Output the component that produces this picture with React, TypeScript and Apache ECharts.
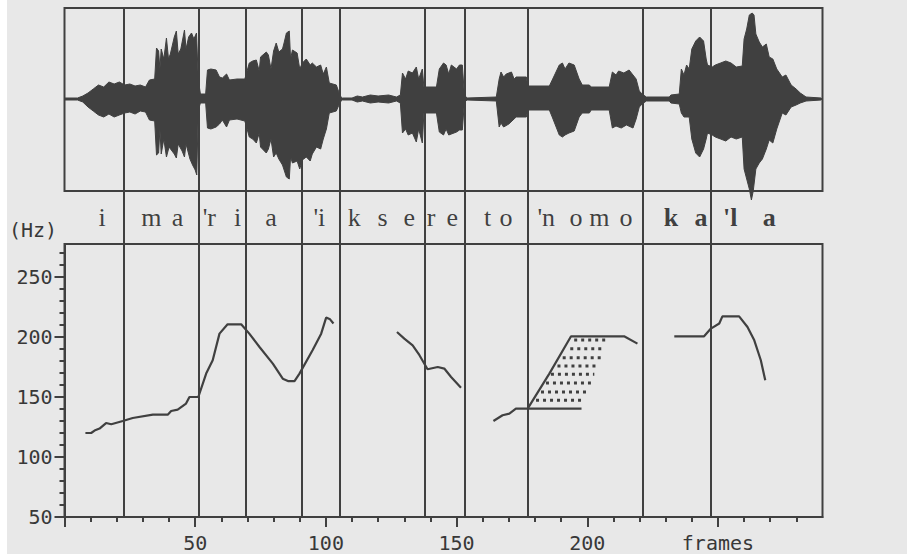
import React, { useEffect, useRef } from "react";
import * as echarts from "echarts";

// ---------- data ----------
const X_MAX = 290;
const segmentBounds = [22.8, 51.3, 69.3, 90.7, 105.3, 137.7, 153.0, 177.1, 221.4, 247.4];

// [text, frame, bold]
const tokens: [string, number, boolean][] = [
  ["i", 14.4, false],
  ["m", 33.2, false],
  ["a", 43.2, false],
  ["'r", 55.4, false],
  ["i", 66.2, false],
  ["a", 79.0, false],
  ["'i", 97.5, false],
  ["k", 110.9, false],
  ["s", 121.7, false],
  ["e", 131.9, false],
  ["r", 140.2, false],
  ["e", 148.4, false],
  ["t", 161.9, false],
  ["o", 168.9, false],
  ["'n", 184.3, false],
  ["o", 195.7, false],
  ["m", 204.6, false],
  ["o", 214.8, false],
  ["k", 232.0, true],
  ["a", 243.5, true],
  ["'l", 254.7, true],
  ["a", 269.6, true],
];

const waveUpper: [number, number][] = [
  [0, 1], [5, 1], [7, 3], [9, 6], [11, 10], [13, 14], [15, 12], [17, 17], [19, 15], [21, 17], [23, 14], [25, 15], [27, 13], [29, 14], [31, 12],
  [32.5, 19], [34.5, 20], [35.2, 51], [36, 48], [36.5, 30], [37, 50], [38, 40], [39, 61], [39.8, 40], [40.5, 45], [42, 62], [42.8, 68], [43.5, 45],
  [44.5, 50], [45.9, 69], [46.5, 50], [47.5, 62], [48.6, 66], [49.5, 60], [50.5, 66], [51.2, 19], [52, 5], [54, 5], [54.7, 29], [56, 30], [58, 29],
  [59.3, 22], [60.4, 21], [62, 25], [63.1, 19], [66, 20], [69, 20], [70.7, 36], [72, 38], [73.4, 39], [74.5, 28], [75, 42], [77.2, 47], [78, 44],
  [79, 30], [80, 48], [81, 56], [82, 47], [83.4, 50], [84, 56], [84.9, 66], [86, 68], [86.5, 40], [87.2, 49], [89, 46], [90, 30], [91, 36],
  [92.5, 40], [94, 34], [94.8, 36], [96.4, 32], [98, 34], [99, 25], [100.2, 32], [101.3, 16], [104, 14], [105.5, 3], [106.3, 1], [110, 1],
  [112, 3], [114, 2], [117, 4], [120, 3], [124, 4], [127, 2], [128.5, 4], [129.3, 26], [130.5, 20], [131.5, 28], [133.1, 26], [134.6, 32],
  [135.5, 20], [136.9, 30], [137.5, 12], [142.3, 12], [143.4, 30], [145, 36], [146, 34], [147, 25], [148, 34], [150, 30], [151.1, 34],
  [152.2, 34], [153, 4], [154, 1], [165.2, 2], [166.3, 20], [167, 27], [168, 22], [169, 25], [171, 27], [172, 20], [172.8, 22], [176.7, 22],
  [177.2, 13], [185.5, 13], [186.6, 19], [189.3, 34], [190.5, 36], [191.5, 30], [193, 36], [195, 34], [196.9, 20], [198.1, 14], [200.8, 14],
  [201.5, 12], [208.4, 12], [209.6, 27], [211, 24], [212, 28], [214, 26], [216, 29], [217.5, 24], [218.7, 20], [219.9, 8], [221, 5], [222.6, 2],
  [231.4, 2], [232, 4], [235.2, 5], [236, 30], [237, 24], [238, 34], [239, 30], [240, 50], [241.5, 58], [243, 62], [244.5, 58], [245.5, 40],
  [246, 34], [247.8, 32], [249, 34], [251, 36], [253, 38], [255, 36], [257, 32], [259.3, 33], [260, 60], [261, 70], [262, 84], [263.1, 86],
  [263.8, 84], [264.5, 65], [265.8, 57], [267, 52], [268.5, 55], [269.6, 42], [271, 40], [272.5, 30], [274.6, 22], [276, 24], [278, 14],
  [279.9, 10], [281.5, 6], [283.7, 2], [289.5, 1],
];

const waveLower: [number, number][] = [
  [0, -1], [5, -1], [7, -3], [9, -8], [11, -12], [13, -16], [15, -18], [17, -15], [19, -18], [21, -16], [23, -14], [25, -13], [27, -15], [29, -12],
  [31, -13], [32.5, -21], [34.5, -22], [35.2, -56], [36, -54], [36.5, -30], [37, -55], [38, -40], [39, -58], [40, -48], [42, -55], [42.8, -59],
  [43.5, -45], [45, -52], [45.9, -58], [46.5, -45], [48, -60], [49, -66], [50, -71], [50.6, -76], [51.2, -11], [52, -4], [54, -4], [54.7, -29],
  [56, -30], [58, -28], [59.3, -25], [60.4, -21], [62, -28], [63.1, -21], [66, -20], [69, -22], [70.7, -38], [72, -40], [73.4, -44], [74.5, -34],
  [75, -48], [77.2, -54], [78, -50], [79, -40], [80, -58], [81, -54], [82, -60], [83.4, -66], [84.9, -78], [86, -80], [86.5, -58], [87.2, -64],
  [89, -62], [90, -70], [91, -61], [92.5, -58], [94, -62], [94.8, -55], [96.4, -48], [98, -50], [99, -40], [100.2, -30], [101.3, -14], [104, -12],
  [105.5, -3], [106.3, -1], [110, -1], [112, -3], [114, -2], [117, -4], [120, -3], [124, -4], [127, -2], [128.5, -4], [129.3, -34], [130.5, -30],
  [131.5, -36], [133.1, -34], [134.6, -43], [135.5, -30], [136.9, -44], [137.5, -14], [142.3, -14], [143.4, -33], [145, -36], [146, -30],
  [147, -36], [150, -33], [151.1, -31], [152.2, -31], [153, -3], [154, -1], [165.2, -2], [166.3, -28], [167, -24], [168, -28], [170, -25],
  [172, -20], [172.8, -18], [176.7, -18], [177.2, -11], [185.5, -11], [186.6, -18], [189.3, -36], [190.5, -38], [191.5, -36], [193, -34],
  [195, -32], [196.9, -18], [198.1, -14], [200.8, -14], [201.5, -11], [208.4, -11], [209.6, -29], [211, -27], [213, -29], [215, -26],
  [217.5, -29], [218.7, -20], [219.9, -8], [221, -5], [222.6, -2], [231.4, -2], [232, -4], [235.2, -5], [236, -14], [237, -18], [239, -18],
  [240, -40], [241.5, -54], [243, -58], [244.5, -50], [245.5, -40], [246, -34], [247.8, -36], [249, -38], [251, -40], [253, -42], [255, -38],
  [257, -40], [259.3, -38], [260, -70], [261, -80], [262, -90], [262.8, -101], [263.5, -92], [264.5, -70], [265.8, -64], [267, -60],
  [268.5, -50], [269.6, -41], [271, -44], [272.5, -30], [274.6, -14], [276, -16], [278, -8], [279.9, -6], [281.5, -4], [283.7, -2], [289.5, -1],
];

const waveZero: [number, number][] = [[0, 0], [X_MAX, 0]];

const pitchSeg1: [number, number][] = [
  [8, 120], [10.2, 120], [11.5, 122], [13.4, 123.7], [15.9, 128.3], [17.9, 127.3], [22.3, 130], [26.1, 132.5], [33.8, 135.3], [39.5, 135.3],
  [40.8, 138.3], [43.3, 139.5], [46.5, 144.5], [47.8, 150], [51.2, 150], [54.2, 169.5], [56.7, 180.6], [59.3, 202.8], [62.4, 210.6],
  [67.6, 210.6], [70.7, 202.8], [74.6, 191.7], [79.7, 177.8], [83.5, 165.3], [85.5, 163.3], [88, 163.3], [89.9, 169.5], [94.9, 189],
  [98.2, 202.8], [100.1, 216.2], [101.6, 214.7], [102.9, 211.2],
];
const pitchSeg2: [number, number][] = [
  [127.2, 204.2], [130.0, 198.7], [133.2, 193.1], [135.8, 184.8], [138.9, 173.1], [142.8, 175], [145.3, 173.7], [147.9, 166.7], [151.7, 157.8],
];
const pitchSeg3: [number, number][] = [
  [164.1, 130], [167.6, 134.8], [170.2, 136.2], [172.7, 140.3], [177.2, 140.3], [185.5, 169.5], [193.8, 200.6], [214.1, 200.6], [219.2, 194.5],
];
const pitchSeg4: [number, number][] = [
  [233.3, 200.6], [244.7, 200.6], [247.3, 207], [250.5, 211.2], [251.7, 217.2], [258.1, 217.2], [261.3, 208.3], [263.9, 197.2],
  [266.4, 180.6], [268.1, 163.9],
];
const shadeBase: [number, number][] = [[177.2, 140.3], [197.8, 140.3]];
// [Hz, fromFrame, toFrame]
const hatchRows: [number, number, number][] = [
  [197.5, 195.0, 208.0],
  [190.3, 193.5, 206.5],
  [182.8, 190.6, 205.2],
  [175.8, 188.6, 203.9],
  [168.9, 186.1, 202.7],
  [161.7, 184.2, 201.4],
  [154.2, 182.3, 200.1],
  [147.3, 180.4, 198.9],
];

const yMajorTicks = [50, 100, 150, 200, 250];
const yMinorTicks = [50, 60, 70, 80, 90, 100, 110, 120, 130, 140, 150, 160, 170, 180, 190, 200, 210, 220, 230, 240, 250, 260, 270];
const xMajorTicks = [0, 50, 100, 150, 200, 250];
const xMinorTicks = [0, 10, 20, 30, 40, 50, 60, 70, 80, 90, 100, 110, 120, 130, 140, 150, 160, 170, 180, 190, 200, 210, 220, 230, 240, 250, 260, 270, 280];
const xLabelValues = [50, 100, 150, 200, 250];
const xLabelTexts = ["50", "100", "150", "200", "frames"];

// ---------- styles ----------
const INK = "#404040";
const GRID_LEFT = 64.5;
const GRID_W = 758;
const LABEL_ROW_VALUE = 300;
const tickFont = { fontFamily: "DejaVu Sans Mono", fontSize: 20, color: "#383838" };

export default function App() {
  const ref = useRef<HTMLDivElement>(null);
  useEffect(() => {
    if (!ref.current) return;
    const chart = echarts.init(ref.current, undefined, { renderer: "svg" });
    const lineBase = (data: any, xi: number, yi: number, extra: any = {}) => ({
      type: "line",
      data,
      xAxisIndex: xi,
      yAxisIndex: yi,
      symbol: "none",
      silent: true,
      lineStyle: { color: INK, width: 2.2 },
      ...extra,
    });
    const option: any = {
      animation: false,
      backgroundColor: "#e8e8e8",
      grid: [
        { left: GRID_LEFT, top: 8, width: GRID_W, height: 183, show: true, borderColor: INK, borderWidth: 2, backgroundColor: "transparent" },
        { left: GRID_LEFT, top: 244, width: GRID_W, height: 273, show: true, borderColor: INK, borderWidth: 2, backgroundColor: "transparent" },
        { left: GRID_LEFT, top: 8, width: GRID_W, height: 509, show: false },
      ],
      xAxis: [
        { gridIndex: 0, type: "value", min: 0, max: X_MAX, show: false },
        {
          gridIndex: 1, type: "value", min: 0, max: X_MAX,
          axisLine: { show: true, lineStyle: { color: INK, width: 2 } },
          axisTick: { show: true, customValues: xMinorTicks, length: 5, lineStyle: { color: INK, width: 2 } },
          axisLabel: { show: false },
          splitLine: { show: false },
        },
        {
          gridIndex: 1, type: "value", min: 0, max: X_MAX, position: "bottom",
          axisLine: { show: false },
          axisTick: { show: true, customValues: xMajorTicks, length: 10, lineStyle: { color: INK, width: 2 } },
          axisLabel: {
            show: true, customValues: xLabelValues, margin: 16, ...tickFont,
            formatter: (v: number) => xLabelTexts[xLabelValues.indexOf(v)] ?? "",
          },
          splitLine: { show: false },
        },
        { gridIndex: 2, type: "value", min: 0, max: X_MAX, show: false },
      ],
      yAxis: [
        { gridIndex: 0, type: "value", min: -92, max: 91, show: false },
        {
          gridIndex: 1, type: "value", min: 50, max: 277.5, position: "left",
          axisLine: { show: true, lineStyle: { color: INK, width: 2 } },
          axisTick: { show: true, customValues: yMinorTicks, length: 5, lineStyle: { color: INK, width: 2 } },
          axisLabel: { show: false },
          splitLine: { show: false },
        },
        {
          gridIndex: 1, type: "value", min: 50, max: 277.5, position: "left",
          axisLine: { show: false },
          axisTick: { show: true, customValues: yMajorTicks, length: 10, lineStyle: { color: INK, width: 2 } },
          axisLabel: { show: true, customValues: yMajorTicks, margin: 12, ...tickFont, padding: [0, 0, 6, 0] },
          splitLine: { show: false },
        },
        { gridIndex: 2, type: "value", min: 0, max: 509, show: false },
      ],
      graphic: [
        { type: "rect", left: 0, top: 0, shape: { width: 7, height: 554 }, style: { fill: "#ffffff" }, silent: true },
        { type: "text", left: 9, top: 220, style: { text: "(Hz)", font: "20px 'DejaVu Sans Mono'", fill: "#383838" }, silent: true },
      ],
      series: [
        lineBase(waveUpper, 0, 0, { clip: false, lineStyle: { color: INK, width: 1 }, areaStyle: { color: INK, opacity: 1 } }),
        lineBase(waveLower, 0, 0, { clip: false, lineStyle: { color: INK, width: 1 }, areaStyle: { color: INK, opacity: 1 } }),
        lineBase(waveZero, 0, 0, { lineStyle: { color: INK, width: 2 } }),
        lineBase(pitchSeg1, 1, 1),
        lineBase(pitchSeg2, 1, 1),
        lineBase(pitchSeg3, 1, 1),
        lineBase(pitchSeg4, 1, 1),
        lineBase(shadeBase, 1, 1),
        ...hatchRows.map((r) =>
          lineBase([[r[1], r[0]], [r[2], r[0]]], 1, 1, { lineStyle: { color: INK, width: 3, type: [3, 4] } })
        ),
        {
          type: "scatter",
          xAxisIndex: 3,
          yAxisIndex: 3,
          silent: true,
          symbolSize: 0.01,
          itemStyle: { color: "transparent" },
          data: tokens.map((t) => ({
            value: [t[1], LABEL_ROW_VALUE],
            label: {
              show: true,
              position: "inside",
              formatter: t[0],
              fontFamily: "'Liberation Serif', 'DejaVu Serif', serif",
              fontSize: 26,
              fontWeight: t[2] ? "bold" : "normal",
              color: "#111111",
            },
          })),
          markLine: {
            silent: true,
            symbol: ["none", "none"],
            label: { show: false },
            lineStyle: { color: INK, width: 2, type: "solid" },
            data: segmentBounds.map((v) => ({ xAxis: v })),
          },
        },
      ],
    };
    chart.setOption(option);
    return () => chart.dispose();
  }, []);
  return <div ref={ref} style={{ position: "fixed", left: 0, top: 0, width: 907, height: 554 }} />;
}
